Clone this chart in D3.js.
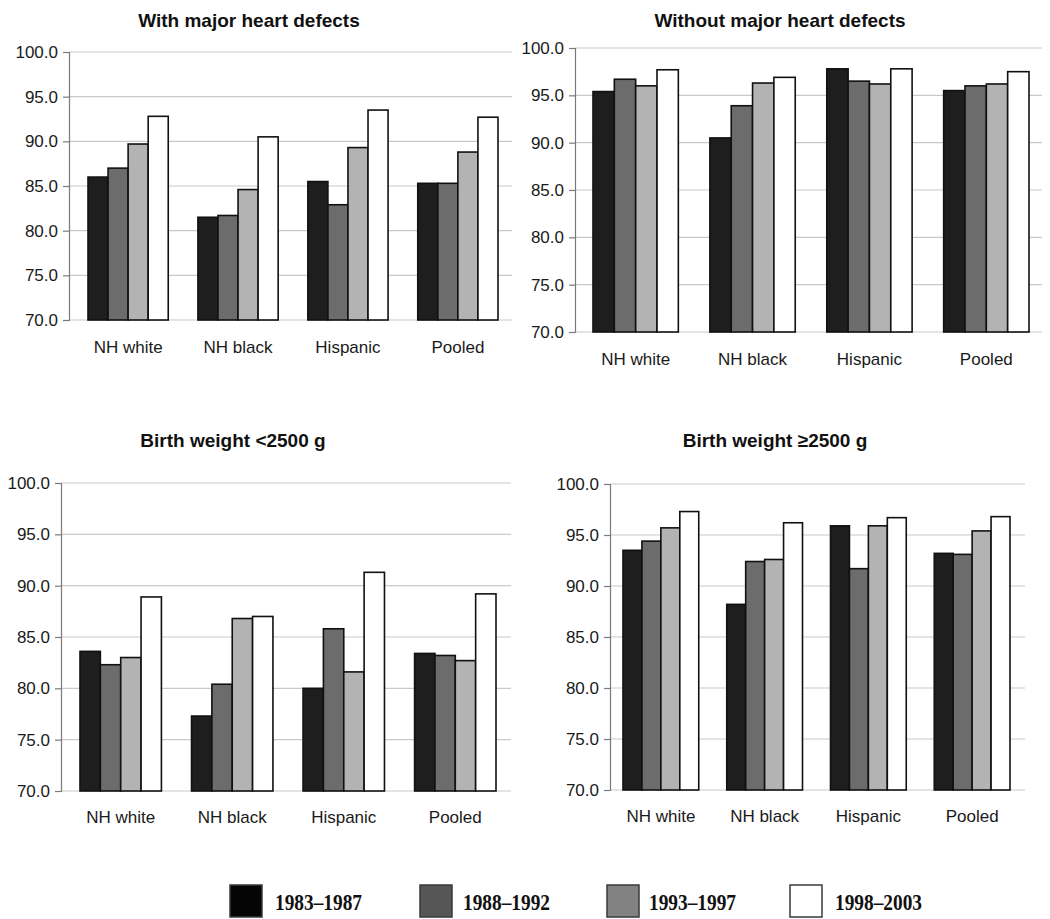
<!DOCTYPE html>
<html>
<head>
<meta charset="utf-8">
<script src="https://cdn.jsdelivr.net/npm/d3@7"></script>
<style>
  html, body { margin: 0; padding: 0; background: #fff; }
  svg { display: block; }
</style>
</head>
<body>
<svg id="chart" width="1050" height="919"></svg>
<script>
// ---------- data ----------
const categories = ["NH white", "NH black", "Hispanic", "Pooled"];
const periods = ["1983–1987", "1988–1992", "1993–1997", "1998–2003"];
const yTicks = [70, 75, 80, 85, 90, 95, 100];

const panelTitles = [
  "With major heart defects",
  "Without major heart defects",
  "Birth weight <2500 g",
  "Birth weight ≥2500 g"
];

// values[category][period]
const withHeartDefects = [
  [86.0, 87.0, 89.7, 92.8],
  [81.5, 81.7, 84.6, 90.5],
  [85.5, 82.9, 89.3, 93.5],
  [85.3, 85.3, 88.8, 92.7]
];
const withoutHeartDefects = [
  [95.4, 96.7, 96.0, 97.7],
  [90.5, 93.9, 96.3, 96.9],
  [97.8, 96.5, 96.2, 97.8],
  [95.5, 96.0, 96.2, 97.5]
];
const lowBirthWeight = [
  [83.6, 82.3, 83.0, 88.9],
  [77.3, 80.4, 86.8, 87.0],
  [80.0, 85.8, 81.6, 91.3],
  [83.4, 83.2, 82.7, 89.2]
];
const normalBirthWeight = [
  [93.5, 94.4, 95.7, 97.3],
  [88.2, 92.4, 92.6, 96.2],
  [95.9, 91.7, 95.9, 96.7],
  [93.2, 93.1, 95.4, 96.8]
];

// ---------- styling / layout ----------
const barColors = ["#1e1e1e", "#6c6c6c", "#b3b3b3", "#ffffff"];
const legendColors = ["#050505", "#565656", "#828282", "#ffffff"];

const layouts = [
  { axisX: 69,  gridR: 512,  gStart: 88,  gEnd: 498,  yTop: 52,  yBot: 320, titleX: 249, titleY: 27,  labelY: 353 },
  { axisX: 575, gridR: 1042, gStart: 593, gEnd: 1029, yTop: 48,  yBot: 332, titleX: 780, titleY: 27,  labelY: 365 },
  { axisX: 61,  gridR: 511,  gStart: 80,  gEnd: 496,  yTop: 483, yBot: 791, titleX: 233, titleY: 447, labelY: 823 },
  { axisX: 610, gridR: 1025, gStart: 623, gEnd: 1010, yTop: 484, yBot: 790, titleX: 775, titleY: 447, labelY: 822 }
];

const datasets = [withHeartDefects, withoutHeartDefects, lowBirthWeight, normalBirthWeight];

const svg = d3.select("#chart");
const sansFont = "'Liberation Sans', Arial, sans-serif";

datasets.forEach((data, i) => {
  const L = layouts[i];
  const g = svg.append("g");

  const y = d3.scaleLinear().domain([70, 100]).range([L.yBot, L.yTop]);
  const x = d3.scaleBand().domain(categories).range([L.gStart, L.gEnd])
    .paddingInner(0.27).paddingOuter(0);
  const xs = d3.scaleBand().domain(periods).range([0, x.bandwidth()]);

  // gridlines
  g.append("g").selectAll("line").data(yTicks).join("line")
    .attr("x1", L.axisX).attr("x2", L.gridR)
    .attr("y1", d => y(d)).attr("y2", d => y(d))
    .attr("stroke", "#c9c9c9").attr("stroke-width", 1.2);

  // y axis
  const yAxis = d3.axisLeft(y).tickValues(yTicks).tickFormat(d3.format(".1f"))
    .tickSize(6).tickPadding(5);
  const ya = g.append("g").attr("transform", `translate(${L.axisX},0)`).call(yAxis);
  ya.select(".domain").attr("stroke", "#7a7a7a").attr("stroke-width", 1.2);
  ya.selectAll(".tick line").attr("stroke", "#7a7a7a").attr("stroke-width", 1.2);
  ya.selectAll(".tick text")
    .attr("font-family", sansFont).attr("font-size", 17).attr("fill", "#1a1a1a");

  // bars
  const groups = g.append("g").selectAll("g").data(categories).join("g")
    .attr("transform", c => `translate(${x(c)},0)`);
  groups.selectAll("rect")
    .data((c, ci) => periods.map((p, pi) => ({ p, pi, v: data[ci][pi] })))
    .join("rect")
    .attr("x", d => xs(d.p))
    .attr("width", xs.bandwidth())
    .attr("y", d => y(d.v))
    .attr("height", d => y(70) - y(d.v))
    .attr("fill", d => barColors[d.pi])
    .attr("stroke", "#111")
    .attr("stroke-width", 1.6);

  // x labels
  g.append("g").selectAll("text").data(categories).join("text")
    .attr("x", c => x(c) + x.bandwidth() / 2)
    .attr("y", L.labelY)
    .attr("text-anchor", "middle")
    .attr("font-family", sansFont).attr("font-size", 17).attr("fill", "#1a1a1a")
    .text(c => c);

  // title
  g.append("text")
    .attr("x", L.titleX).attr("y", L.titleY)
    .attr("text-anchor", "middle")
    .attr("font-family", sansFont).attr("font-weight", "bold")
    .attr("font-size", 19).attr("fill", "#111")
    .text(panelTitles[i]);
});

// ---------- legend ----------
const legendBoxX = [230, 420, 607, 790];
const legendTextX = [275, 463, 649, 835];
const legend = svg.append("g");
periods.forEach((p, i) => {
  legend.append("rect")
    .attr("x", legendBoxX[i]).attr("y", 885)
    .attr("width", 32).attr("height", 32)
    .attr("fill", legendColors[i])
    .attr("stroke", "#3a3a3a").attr("stroke-width", 1.5);
  legend.append("text")
    .attr("x", legendTextX[i]).attr("y", 910)
    .attr("font-family", "'Liberation Serif', 'Times New Roman', serif")
    .attr("font-weight", "bold").attr("font-size", 23).attr("fill", "#111")
    .attr("textLength", 87).attr("lengthAdjust", "spacingAndGlyphs")
    .text(p);
});
</script>
</body>
</html>
